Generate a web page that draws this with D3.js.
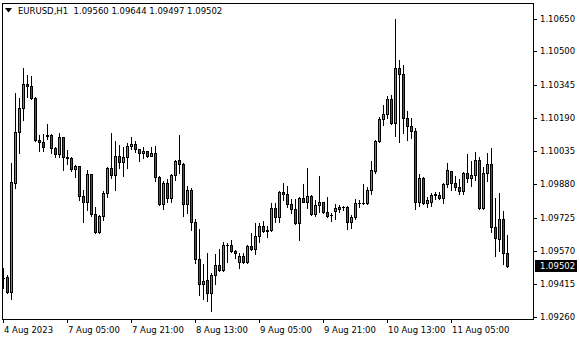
<!DOCTYPE html>
<html><head><meta charset="utf-8">
<script src="https://cdn.jsdelivr.net/npm/d3@7"></script>
<style>
html,body{margin:0;padding:0;background:#fff;}
svg{display:block;}
text{font-family:"DejaVu Sans",sans-serif;font-size:8.5px;fill:#000;}
</style></head>
<body>
<script>
const symbolTitle = "EURUSD,H1";
const opens = [
1.09443,1.09451,1.09381,1.09888,1.10123,1.10235,1.10347,1.10338,1.10285,1.10088,
1.10077,1.10106,1.10110,1.10052,1.10022,1.10100,1.10008,1.10003,1.09953,1.09966,
1.09827,1.09800,1.09928,1.09743,1.09660,1.09733,1.09839,1.09956,1.09924,1.10014,
1.09986,1.10007,1.10060,1.10069,1.10044,1.10026,1.10036,1.10014,1.10028,1.09917,
1.09789,1.09888,1.09819,1.09922,1.09993,1.09976,1.09788,1.09855,1.09707,1.09533,
1.09415,1.09433,1.09373,1.09459,1.09505,1.09482,1.09598,1.09596,1.09572,1.09520,
1.09546,1.09519,1.09594,1.09578,1.09638,1.09687,1.09665,1.09668,1.09769,1.09727,
1.09847,1.09836,1.09789,1.09765,1.09699,1.09816,1.09800,1.09828,1.09741,1.09783,
1.09797,1.09751,1.09738,1.09758,1.09766,1.09774,1.09774,1.09707,1.09730,1.09793,
1.09792,1.09793,1.09855,1.09944,1.10084,1.10185,1.10209,1.10277,1.10165,1.10422,
1.10394,1.10189,1.10154,1.10131,1.09800,1.09909,1.09793,1.09800,1.09831,1.09833,
1.09816,1.09883,1.09942,1.09886,1.09870,1.09851,1.09932,1.09909,1.09926,1.09994,
1.09769,1.09932,1.09976,1.09684,1.09628,1.09718,1.09560];
const highs = [
1.09490,1.09459,1.09982,1.10305,1.10282,1.10422,1.10391,1.10385,1.10288,1.10111,
1.10116,1.10162,1.10116,1.10054,1.10122,1.10102,1.10041,1.10007,1.09971,1.09968,
1.09855,1.09948,1.09930,1.09777,1.09738,1.09850,1.09960,1.10122,1.10083,1.10064,
1.10054,1.10073,1.10100,1.10084,1.10046,1.10054,1.10038,1.10054,1.10060,1.09920,
1.09898,1.09904,1.09929,1.09994,1.10111,1.09978,1.09873,1.09863,1.09719,1.09671,
1.09510,1.09560,1.09467,1.09557,1.09580,1.09611,1.09609,1.09622,1.09575,1.09562,
1.09559,1.09596,1.09653,1.09699,1.09699,1.09711,1.09687,1.09793,1.09793,1.09851,
1.09886,1.09873,1.09811,1.09813,1.09820,1.09882,1.09956,1.09831,1.09808,1.09920,
1.09800,1.09820,1.09749,1.09789,1.09785,1.09780,1.09780,1.09738,1.09811,1.09808,
1.09882,1.09867,1.09991,1.10088,1.10193,1.10251,1.10293,1.10297,1.10651,1.10460,
1.10437,1.10223,1.10189,1.10142,1.09929,1.09914,1.09820,1.09842,1.09847,1.09847,
1.09889,1.09979,1.09944,1.09920,1.09904,1.09937,1.10022,1.09990,1.10033,1.10010,
1.09960,1.10026,1.10052,1.09819,1.09842,1.09757,1.09644];
const lows = [
1.09397,1.09376,1.09345,1.09863,1.10026,1.10181,1.10287,1.10277,1.10083,1.10038,
1.10036,1.10092,1.10028,1.10010,1.10010,1.09948,1.09976,1.09944,1.09917,1.09808,
1.09707,1.09761,1.09735,1.09656,1.09654,1.09715,1.09823,1.09909,1.09855,1.09956,
1.09921,1.09956,1.10044,1.10033,1.09990,1.10002,1.10010,1.10012,1.09898,1.09785,
1.09766,1.09800,1.09800,1.09901,1.09935,1.09735,1.09749,1.09668,1.09516,1.09365,
1.09347,1.09337,1.09292,1.09415,1.09477,1.09479,1.09518,1.09567,1.09539,1.09493,
1.09516,1.09516,1.09576,1.09556,1.09614,1.09660,1.09634,1.09665,1.09707,1.09707,
1.09808,1.09777,1.09746,1.09694,1.09622,1.09798,1.09769,1.09738,1.09733,1.09753,
1.09746,1.09730,1.09712,1.09719,1.09753,1.09761,1.09673,1.09676,1.09719,1.09777,
1.09789,1.09789,1.09835,1.09932,1.10080,1.10157,1.10190,1.10160,1.10106,1.10076,
1.10122,1.10088,1.10099,1.09765,1.09780,1.09788,1.09777,1.09781,1.09811,1.09813,
1.09795,1.09870,1.09855,1.09855,1.09836,1.09836,1.09893,1.09873,1.09901,1.09765,
1.09765,1.09898,1.09660,1.09548,1.09572,1.09510,1.09497];
const closes = [
1.09445,1.09381,1.09890,1.10123,1.10235,1.10347,1.10338,1.10285,1.10088,1.10077,
1.10056,1.10113,1.10052,1.10022,1.10100,1.10007,1.10003,1.09953,1.09966,1.09827,
1.09800,1.09928,1.09743,1.09660,1.09733,1.09839,1.09956,1.09924,1.10014,1.09986,
1.10007,1.10060,1.10069,1.10044,1.10028,1.10036,1.10014,1.10028,1.09917,1.09789,
1.09888,1.09819,1.09924,1.09991,1.09976,1.09788,1.09855,1.09707,1.09533,1.09415,
1.09431,1.09373,1.09459,1.09505,1.09482,1.09598,1.09596,1.09572,1.09562,1.09547,
1.09520,1.09594,1.09578,1.09640,1.09687,1.09665,1.09668,1.09769,1.09727,1.09847,
1.09836,1.09789,1.09765,1.09699,1.09816,1.09800,1.09828,1.09741,1.09785,1.09797,
1.09751,1.09735,1.09737,1.09772,1.09774,1.09773,1.09707,1.09730,1.09793,1.09792,
1.09793,1.09855,1.09948,1.10084,1.10185,1.10209,1.10277,1.10165,1.10422,1.10394,
1.10189,1.10154,1.10131,1.09800,1.09909,1.09793,1.09808,1.09831,1.09835,1.09816,
1.09883,1.09948,1.09886,1.09870,1.09851,1.09932,1.09909,1.09924,1.09994,1.09769,
1.09932,1.09976,1.09684,1.09630,1.09718,1.09560,1.09502];
const priceTicks = [1.10650,1.10500,1.10345,1.10190,1.10035,1.09880,1.09725,1.09570,1.09415,1.09260];
const timeTickBars = [0,16,32,48,64,80,96,112];
const timeTickLabels = ["4 Aug 2023","7 Aug 05:00","7 Aug 21:00","8 Aug 13:00","9 Aug 05:00","9 Aug 21:00","10 Aug 13:00","11 Aug 05:00"];

const W = 580, H = 340;
const L = 2, R = 533, T = 3, B = 319;
const bullColor = "#36b236", bearColor = "#e01414";

const svg = d3.select("body").append("svg").attr("width", W).attr("height", H);

const n = closes.length;
const x = d3.scaleLinear().domain([0, n - 1]).range([3.3, 3.3 + 4 * (n - 1)]);
const y = d3.scaleLinear().domain([1.09253, 1.10726]).range([B, T]);

svg.append("clipPath").attr("id", "plot").append("rect")
  .attr("x", L + 1).attr("y", T + 1).attr("width", R - L - 1).attr("height", B - T - 1);

const bars = d3.range(n).map(i => ({i, o: opens[i], h: highs[i], l: lows[i], c: closes[i]}));
const g = svg.append("g").attr("clip-path", "url(#plot)");

bars.forEach(d => {
  const cx = Math.floor(x(d.i));
  const yh = Math.round(y(d.h)), yl = Math.round(y(d.l));
  g.append("rect").attr("x", cx).attr("y", yh).attr("width", 1).attr("height", Math.max(1, yl - yh + 1)).attr("fill", "#000");
  const top = Math.round(y(Math.max(d.o, d.c))), bot = Math.round(y(Math.min(d.o, d.c)));
  if (bot - top < 1) {
    g.append("rect").attr("x", cx - 1).attr("y", top).attr("width", 3).attr("height", 1).attr("fill", "#000");
  } else {
    g.append("rect").attr("x", cx - 0.5).attr("y", top + 0.5).attr("width", 2).attr("height", bot - top)
      .attr("fill", d.c >= d.o ? bullColor : bearColor).attr("stroke", "#000").attr("stroke-width", 1);
  }
});

// frame
svg.append("rect").attr("x", L + 0.5).attr("y", T + 0.5).attr("width", R - L).attr("height", B - T)
  .attr("fill", "none").attr("stroke", "#000").attr("stroke-width", 1);

// price axis
priceTicks.forEach(p => {
  const yy = Math.round(y(p));
  svg.append("line").attr("x1", R).attr("x2", R + 4).attr("y1", yy + 0.5).attr("y2", yy + 0.5).attr("stroke", "#000");
  svg.append("text").attr("x", 540).attr("y", yy + 0.5).attr("dominant-baseline", "middle").text(d3.format(".5f")(p));
});

// current price box
const last = closes[n - 1];
const ly = Math.round(y(last));
svg.append("rect").attr("x", 535).attr("y", ly - 6).attr("width", 42).attr("height", 12).attr("fill", "#000");
svg.append("text").attr("x", 540).attr("y", ly + 0.5).attr("dominant-baseline", "middle").style("fill", "#fff").text(d3.format(".5f")(last));

// time axis
timeTickBars.forEach((b, k) => {
  const xx = Math.floor(x(b));
  svg.append("line").attr("x1", xx + 0.5).attr("x2", xx + 0.5).attr("y1", B).attr("y2", B + 4).attr("stroke", "#000");
  svg.append("text").attr("x", xx + 1).attr("y", 330).attr("dominant-baseline", "middle").text(timeTickLabels[k]);
});

// header
svg.append("path").attr("d", "M5,8 L12,8 L8.5,12.5 Z").attr("fill", "#000");
const fmt = d3.format(".5f");
svg.append("text").attr("x", 18).attr("y", 11).attr("dominant-baseline", "middle").attr("xml:space", "preserve")
  .style("white-space", "pre")
  .text(symbolTitle + "  " + [opens[n-1], highs[n-1], lows[n-1], closes[n-1]].map(fmt).join(" "));
</script>
</body></html>
